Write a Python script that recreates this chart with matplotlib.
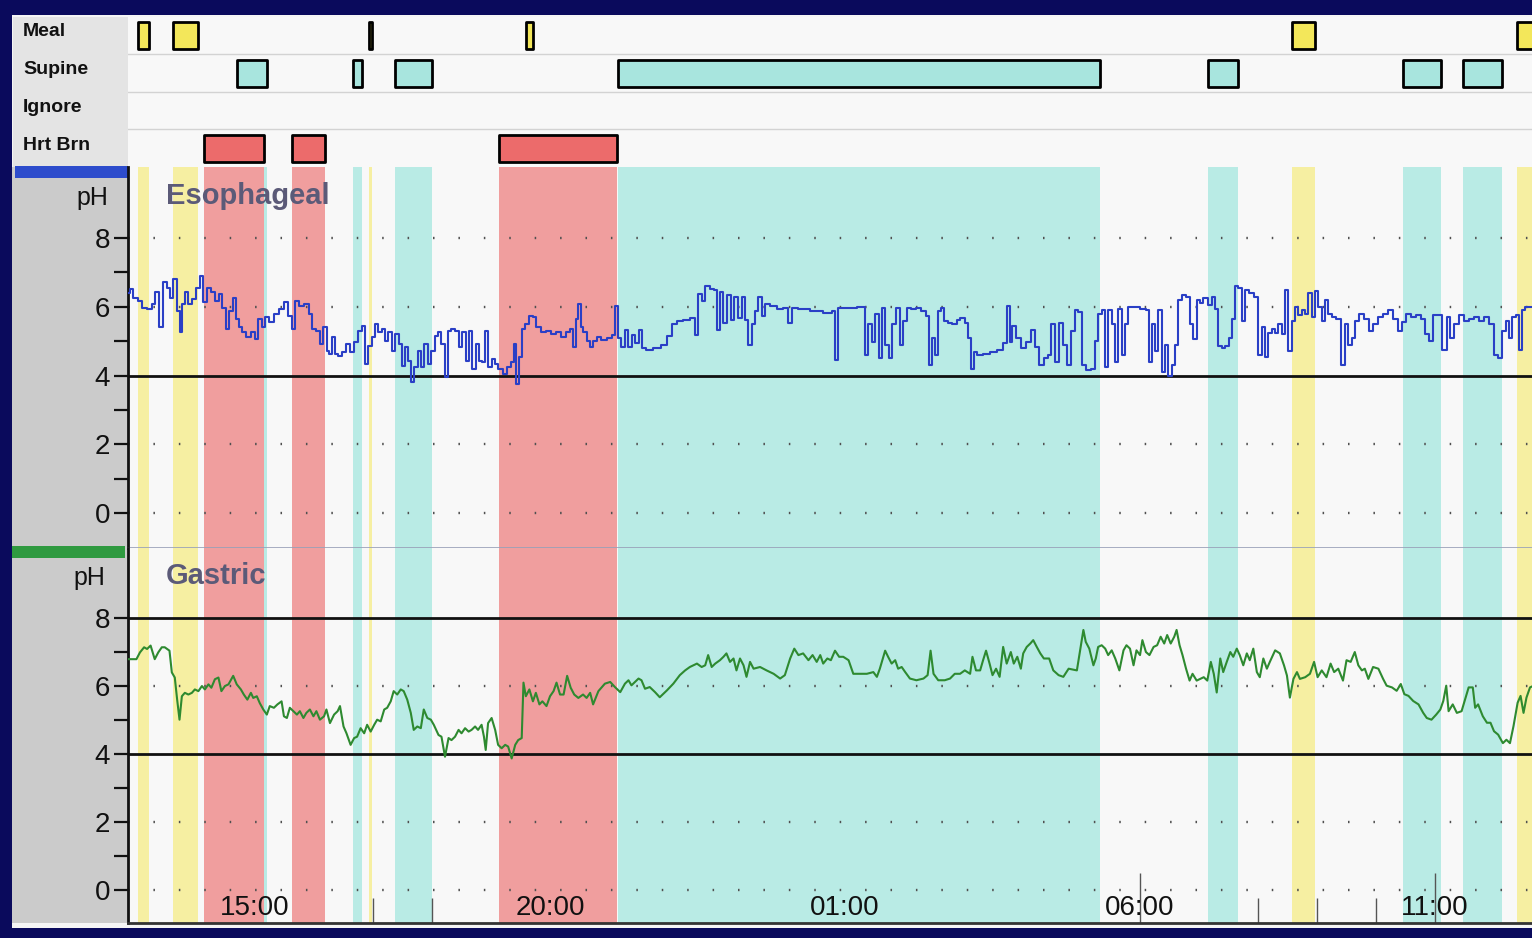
import numpy as np
import matplotlib
matplotlib.use("Agg")
import matplotlib.pyplot as plt
from matplotlib.patches import Rectangle

plt.rcParams['font.family'] = ['Liberation Sans', 'DejaVu Sans']
plt.rcParams['lines.scale_dashes'] = False

# ---------------- data ----------------
row_labels = ['Meal', 'Supine', 'Ignore', 'Hrt Brn']
# events as (start hour, end hour); hours counted from midnight of day 1
meal_events = [(13.02, 13.20), (13.61, 14.03), (16.93, 16.98), (19.59, 19.71),
               (32.58, 32.97), (36.39, 36.78)]
supine_events = [(14.69, 15.20), (16.66, 16.81), (17.37, 18.00), (21.15, 29.33),
                 (31.15, 31.66), (34.45, 35.10), (35.48, 36.14)]
ignore_events = []
heartburn_events = [(14.13, 15.16), (15.63, 16.18), (19.13, 21.13)]

time_label_hours = [15, 20, 25, 30, 35]
time_labels = ['15:00', '20:00', '01:00', '06:00', '11:00']
major_tick_hours = [30, 35]
minor_tick_hours = [17, 18, 32, 33, 34]

ph_major = [0, 2, 4, 6, 8]
ph_minor = [1, 3, 5, 7]

eso_hours = [
    12.85, 12.91, 12.97, 13.05, 13.13, 13.22, 13.28, 13.34, 13.40, 13.47,
    13.53, 13.59, 13.64, 13.70, 13.74, 13.78, 13.84, 13.90, 13.97, 14.04,
    14.10, 14.15, 14.21, 14.29, 14.36, 14.41, 14.47, 14.53, 14.58, 14.66,
    14.70, 14.74, 14.81, 14.89, 14.96, 15.03, 15.08, 15.14, 15.20, 15.28,
    15.37, 15.45, 15.54, 15.59, 15.65, 15.71, 15.79, 15.88, 15.94, 15.99,
    16.07, 16.13, 16.19, 16.24, 16.28, 16.33, 16.37, 16.44, 16.51, 16.58,
    16.64, 16.71, 16.78, 16.83, 16.89, 16.95, 17.00, 17.06, 17.12, 17.17,
    17.23, 17.29, 17.34, 17.41, 17.47, 17.51, 17.57, 17.62, 17.67, 17.73,
    17.78, 17.84, 17.90, 17.95, 18.02, 18.08, 18.13, 18.19, 18.24, 18.29,
    18.36, 18.43, 18.49, 18.54, 18.60, 18.65, 18.71, 18.77, 18.82, 18.87,
    18.93, 18.98, 19.04, 19.10, 19.15, 19.24, 19.31, 19.37, 19.41, 19.45,
    19.49, 19.55, 19.61, 19.67, 19.74, 19.80, 19.89, 19.97, 20.06, 20.14,
    20.23, 20.31, 20.37, 20.41, 20.46, 20.50, 20.54, 20.59, 20.65, 20.71,
    20.76, 20.82,
    20.90, 21.02, 21.07, 21.13, 21.18, 21.24, 21.30, 21.36, 21.41, 21.47,
    21.53, 21.58, 21.67, 21.81, 21.95, 22.03, 22.09, 22.20, 22.32, 22.43,
    22.49, 22.54, 22.60, 22.67, 22.74, 22.81, 22.85, 22.91, 22.97, 23.02,
    23.10, 23.15, 23.22, 23.28, 23.33, 23.38, 23.45, 23.50, 23.56, 23.62,
    23.67, 23.79, 23.90, 24.01, 24.07, 24.12, 24.29, 24.52, 24.75, 24.80,
    24.86, 24.90, 25.08, 25.31, 25.37, 25.42, 25.48, 25.55, 25.61, 25.65,
    25.72, 25.77, 25.83, 25.89, 25.96, 26.02, 26.07, 26.16, 26.24, 26.33,
    26.40, 26.45, 26.50, 26.55, 26.61, 26.66, 26.71, 26.78, 26.86, 26.92,
    26.99, 27.06, 27.12, 27.16, 27.20, 27.29, 27.40, 27.51, 27.63, 27.71,
    27.77, 27.81, 27.86, 27.94, 28.02, 28.11, 28.19, 28.26, 28.33, 28.41,
    28.46, 28.53, 28.59, 28.65, 28.73, 28.79,
    28.87, 28.93, 28.98, 29.04, 29.12, 29.21, 29.27, 29.32, 29.38, 29.44,
    29.49, 29.55, 29.60, 29.66, 29.72, 29.77, 29.83, 29.94, 30.06, 30.14,
    30.18, 30.23, 30.28, 30.34, 30.40, 30.45, 30.51, 30.56, 30.62, 30.68,
    30.73, 30.82, 30.88, 30.93, 30.99, 31.05, 31.10, 31.19, 31.24, 31.30,
    31.36, 31.41, 31.47, 31.53, 31.58, 31.64, 31.69, 31.75, 31.81, 31.89,
    31.98, 32.03, 32.09, 32.15, 32.20, 32.26, 32.32, 32.37, 32.43, 32.49,
    32.54, 32.60, 32.66, 32.71, 32.77, 32.83, 32.88, 32.94, 32.99, 33.05,
    33.11, 33.16, 33.22, 33.28, 33.36, 33.45, 33.50, 33.56, 33.62, 33.67,
    33.76, 33.84, 33.93, 33.98, 34.07, 34.15, 34.24, 34.32, 34.41, 34.46,
    34.55, 34.63, 34.72, 34.80, 34.86, 34.93, 35.00, 35.08, 35.17, 35.23,
    35.28, 35.37, 35.45, 35.54, 35.62, 35.71, 35.79, 35.88, 35.96, 36.05,
    36.10, 36.17, 36.23, 36.28, 36.34, 36.40, 36.44, 36.50, 36.55, 36.62,
    36.66,
]
eso_ph = [
    6.40, 6.51, 6.27, 6.17, 5.98, 5.93, 6.08, 6.42, 5.40, 6.71,
    6.56, 6.27, 6.80, 5.88, 5.26, 6.08, 6.42, 6.08, 6.22, 6.56,
    6.90, 6.13, 6.56, 6.42, 6.17, 6.37, 5.98, 5.35, 5.88, 6.27,
    5.64, 5.40, 5.26, 5.11, 5.26, 5.06, 5.64, 5.40, 5.69, 5.55,
    5.79, 5.93, 6.13, 5.74, 5.35, 6.17, 6.03, 6.08, 5.79, 5.35,
    5.30, 4.92, 5.40, 4.72, 4.63, 5.11, 4.63, 4.58, 4.68, 4.92,
    4.68, 4.97, 5.30, 5.45, 4.34, 4.87, 5.11, 5.50, 5.26, 5.35,
    5.01, 5.26, 4.72, 5.21, 4.92, 4.29, 4.82, 4.43, 3.81, 4.24,
    4.72, 4.24, 4.92, 4.34, 4.72, 5.16, 5.26, 4.92, 3.95, 5.30,
    5.35, 5.30, 4.82, 5.26, 4.43, 5.30, 4.19, 4.92, 4.43, 4.39,
    5.30, 4.24, 4.48, 4.34, 4.19, 4.05, 4.24, 4.39, 4.92, 3.76,
    4.53, 5.35, 5.50, 5.74, 5.69, 5.40, 5.26, 5.30, 5.21, 5.26,
    5.11, 5.26, 5.35, 4.82, 5.64, 6.08, 5.40, 5.26, 5.01, 4.82,
    5.01, 5.11,
    5.04, 5.09, 5.19, 6.03, 5.09, 4.84, 5.34, 4.84, 5.19, 4.94,
    5.34, 4.79, 4.74, 4.79, 4.89, 5.14, 5.49, 5.58, 5.63, 5.68,
    5.19, 6.38, 6.18, 6.62, 6.52, 6.48, 5.34, 6.43, 5.53, 6.33,
    5.63, 6.28, 5.68, 6.28, 5.63, 4.89, 5.49, 5.88, 6.28, 5.73,
    6.08, 6.03, 5.93, 5.98, 5.53, 5.98, 5.93, 5.88, 5.83, 5.88,
    4.45, 5.98, 5.98, 6.00, 4.59, 5.49, 4.99, 5.78, 4.50, 5.98,
    4.89, 4.50, 5.49, 5.98, 4.89, 5.58, 5.98, 5.93, 5.98, 5.88,
    5.73, 4.30, 5.09, 4.59, 5.88, 5.98, 5.58, 5.53, 5.49, 5.63,
    5.68, 5.53, 5.09, 4.20, 4.69, 4.59, 4.64, 4.69, 4.74, 4.94,
    6.03, 4.99, 5.44, 5.09, 4.79, 4.99, 5.34, 4.84, 4.30, 4.50,
    4.59, 5.49, 4.40, 5.53, 4.89, 4.30,
    5.30, 5.90, 5.85, 4.30, 4.15, 4.20, 5.00, 5.80, 5.90, 4.25,
    5.90, 5.50, 4.40, 5.95, 4.60, 5.50, 6.00, 6.00, 5.95, 5.90,
    4.40, 5.50, 4.70, 5.90, 4.10, 4.90, 4.00, 4.30, 4.90, 6.20,
    6.35, 6.30, 5.50, 5.05, 6.20, 6.10, 6.25, 6.05, 6.30, 5.95,
    4.85, 4.80, 4.85, 5.10, 5.65, 6.60, 6.55, 5.60, 6.50, 6.40,
    6.30, 4.60, 5.40, 4.55, 5.25, 5.35, 5.25, 5.50, 5.20, 6.50,
    4.70, 5.60, 6.00, 5.75, 5.90, 5.80, 6.40, 5.70, 6.45, 6.00,
    5.60, 6.20, 5.80, 5.70, 5.65, 4.30, 5.50, 4.90, 5.10, 5.60,
    5.80, 5.65, 5.30, 5.50, 5.70, 5.80, 5.90, 5.65, 5.30, 5.55,
    5.80, 5.70, 5.75, 5.65, 5.20, 5.00, 5.75, 5.75, 4.75, 5.70,
    5.10, 5.50, 5.75, 5.60, 5.65, 5.70, 5.60, 5.70, 5.50, 4.60,
    4.50, 5.30, 5.60, 5.10, 5.70, 5.75, 4.75, 5.90, 6.00, 6.00,
    6.00,
]

gastric_hours = [
    12.84, 12.99, 13.05, 13.12, 13.17, 13.23, 13.30, 13.36, 13.42, 13.47,
    13.55, 13.59, 13.64, 13.68, 13.72, 13.76, 13.81, 13.87, 13.93, 13.98,
    14.04, 14.10, 14.15, 14.21, 14.26, 14.32, 14.38, 14.43, 14.49, 14.55,
    14.63, 14.69, 14.76, 14.81, 14.87, 14.93, 14.97, 15.03, 15.08, 15.14,
    15.20, 15.25, 15.32, 15.38, 15.45, 15.49, 15.54, 15.59, 15.65, 15.71,
    15.76, 15.82, 15.87, 15.93, 15.99, 16.04, 16.10, 16.17, 16.21, 16.27,
    16.34, 16.40, 16.44, 16.50, 16.55, 16.62, 16.68, 16.73, 16.79, 16.85,
    16.90, 16.96, 17.02, 17.07, 17.13, 17.19, 17.24, 17.30, 17.35, 17.41,
    17.47, 17.52, 17.58, 17.64, 17.69, 17.75, 17.81, 17.86, 17.92, 17.98,
    18.03, 18.11, 18.16, 18.22, 18.28, 18.33, 18.39, 18.45, 18.50, 18.56,
    18.62, 18.67, 18.73, 18.78, 18.84, 18.88, 18.91, 18.95, 19.01, 19.07,
    19.12, 19.18, 19.24, 19.29, 19.35, 19.41, 19.46, 19.52, 19.55, 19.59,
    19.65, 19.71, 19.76, 19.82, 19.87, 19.94, 20.00, 20.06, 20.11, 20.17,
    20.23, 20.29, 20.35, 20.41, 20.48, 20.56, 20.62, 20.68, 20.73, 20.82,
    20.93, 21.02, 21.10, 21.19, 21.27, 21.33, 21.38, 21.44, 21.50, 21.55,
    21.61, 21.69, 21.78, 21.86, 21.98, 22.09, 22.20, 22.29, 22.37, 22.49,
    22.57, 22.63, 22.68, 22.74, 22.80, 22.88, 22.94, 22.99, 23.05, 23.11,
    23.16, 23.22, 23.28, 23.33, 23.39, 23.45, 23.56, 23.67, 23.79, 23.90,
    23.98, 24.07, 24.14, 24.21, 24.29, 24.38, 24.45, 24.52, 24.58, 24.63,
    24.70, 24.76, 24.83, 24.90, 24.97, 25.06, 25.14, 25.23, 25.37, 25.48,
    25.54, 25.59, 25.68, 25.73, 25.79, 25.85, 25.90, 25.96, 26.02, 26.10,
    26.21, 26.33, 26.40, 26.45, 26.50, 26.58, 26.69, 26.78, 26.86, 26.95,
    27.03, 27.12, 27.16, 27.22, 27.29, 27.34, 27.39, 27.45, 27.50, 27.56,
    27.62, 27.68, 27.74, 27.81, 27.86, 27.92, 27.98, 28.02, 28.08, 28.14,
    28.19, 28.25, 28.31, 28.37, 28.46, 28.53, 28.62, 28.70, 28.79,
    28.93, 28.98, 29.04, 29.08, 29.14, 29.21, 29.25, 29.29, 29.35, 29.41,
    29.46, 29.52, 29.58, 29.65, 29.72, 29.77, 29.83, 29.89, 29.94, 30.00,
    30.04, 30.10, 30.16, 30.23, 30.29, 30.35, 30.41, 30.46, 30.52, 30.58,
    30.62, 30.67, 30.72, 30.78, 30.84, 30.89, 30.96, 31.02, 31.08, 31.14,
    31.20, 31.25, 31.30, 31.36, 31.41, 31.47, 31.53, 31.58, 31.64, 31.69,
    31.75, 31.81, 31.86, 31.92, 31.98, 32.03, 32.09, 32.15, 32.20, 32.29,
    32.37, 32.44, 32.49, 32.54, 32.60, 32.66, 32.71, 32.80, 32.88, 32.95,
    33.01, 33.08, 33.16, 33.23, 33.29, 33.36, 33.44, 33.50, 33.57, 33.64,
    33.70, 33.76, 33.81, 33.87, 33.95, 34.04, 34.12, 34.18, 34.27, 34.35,
    34.42, 34.48, 34.55, 34.63, 34.72, 34.80, 34.86, 34.94, 35.02, 35.09,
    35.14, 35.19, 35.23, 35.30, 35.37, 35.45, 35.51, 35.57, 35.64, 35.68,
    35.73, 35.81, 35.88, 35.94, 36.00, 36.07, 36.15, 36.21, 36.27, 36.33,
    36.40, 36.45, 36.50, 36.55, 36.61, 36.66,
]
gastric_ph = [
    6.79, 6.79, 6.99, 7.14, 7.09, 7.19, 6.79, 6.99, 7.14, 7.14,
    7.04, 6.40, 6.25, 5.60, 5.01, 5.70, 5.80, 5.75, 5.80, 5.90,
    5.85, 6.00, 5.90, 6.05, 5.95, 6.20, 6.25, 5.85, 6.00, 6.05,
    6.30, 6.05, 5.90, 5.75, 5.60, 5.80, 5.65, 5.70, 5.50, 5.31,
    5.16, 5.41, 5.36, 5.46, 5.55, 5.11, 5.06, 5.36, 5.26, 5.16,
    5.26, 5.06, 5.21, 5.31, 5.11, 5.26, 5.01, 5.11, 5.31, 4.91,
    5.16, 5.26, 5.41, 4.81, 4.61, 4.27, 4.47, 4.51, 4.76, 4.61,
    4.86, 4.66, 4.86, 5.01, 4.96, 5.31, 5.36, 5.55, 5.85, 5.75,
    5.90, 5.85, 5.60, 5.21, 4.71, 4.81, 4.76, 5.31, 5.06, 5.01,
    4.86, 4.56, 4.51, 3.92, 4.47, 4.41, 4.51, 4.71, 4.61, 4.76,
    4.66, 4.71, 4.81, 4.71, 4.86, 4.51, 4.12, 4.91, 5.06, 4.71,
    4.27, 4.17, 4.27, 4.22, 3.87, 4.27, 4.41, 4.47, 6.10, 5.70,
    5.90, 5.55, 5.80, 5.46, 5.55, 5.41, 5.70, 5.85, 6.10, 5.75,
    5.75, 6.30, 5.95, 5.75, 5.65, 5.75, 5.65, 5.80, 5.46, 5.85,
    6.07, 6.12, 5.97, 5.82, 6.07, 6.17, 6.02, 6.12, 6.22, 6.17,
    5.92, 5.97, 5.82, 5.67, 5.87, 6.07, 6.32, 6.46, 6.56, 6.66,
    6.56, 6.61, 6.91, 6.56, 6.66, 6.76, 6.86, 6.96, 6.71, 6.81,
    6.46, 6.81, 6.61, 6.27, 6.71, 6.51, 6.56, 6.46, 6.36, 6.22,
    6.32, 6.81, 7.10, 6.91, 6.96, 6.76, 6.91, 6.71, 6.91, 6.66,
    6.81, 6.76, 7.04, 6.86, 6.86, 6.76, 6.36, 6.36, 6.36, 6.41,
    6.27, 6.51, 7.04, 6.86, 6.66, 6.76, 6.51, 6.56, 6.41, 6.22,
    6.17, 6.22, 6.32, 7.04, 6.36, 6.17, 6.17, 6.22, 6.36, 6.36,
    6.46, 6.36, 6.86, 6.46, 6.46, 6.76, 7.04, 6.66, 6.32, 6.51,
    6.27, 7.15, 6.66, 7.00, 6.66, 6.86, 6.51, 6.96, 7.15, 7.25,
    7.35, 7.15, 6.96, 6.81, 6.81, 6.46, 6.32, 6.27, 6.51,
    6.46, 7.00, 7.65, 7.30, 7.10, 6.61, 6.81, 7.15, 7.20, 7.10,
    6.91, 7.05, 6.81, 6.46, 7.05, 7.20, 7.10, 6.61, 7.05, 6.91,
    7.35, 7.00, 6.91, 7.15, 7.20, 7.45, 7.25, 7.50, 7.25, 7.45,
    7.65, 7.20, 6.91, 6.51, 6.16, 6.36, 6.16, 6.21, 6.26, 6.16,
    6.71, 6.36, 5.81, 6.81, 6.41, 6.71, 7.00, 6.86, 7.10, 6.91,
    6.61, 6.96, 6.76, 7.10, 6.41, 6.26, 6.81, 6.51, 6.71, 7.05,
    6.96, 6.61, 6.31, 5.66, 6.21, 6.41, 6.21, 6.26, 6.36, 6.71,
    6.26, 6.46, 6.26, 6.66, 6.41, 6.51, 6.16, 6.76, 6.71, 7.00,
    6.61, 6.46, 6.51, 6.21, 6.56, 6.51, 6.21, 6.01, 5.96, 5.86,
    6.06, 5.76, 5.71, 5.56, 5.46, 5.21, 5.06, 5.01, 5.16, 5.31,
    5.56, 6.01, 5.26, 5.46, 5.21, 5.26, 5.61, 5.96, 5.96, 5.36,
    5.46, 5.11, 4.92, 4.92, 4.67, 4.57, 4.32, 4.42, 4.32, 4.82,
    5.51, 5.71, 5.21, 5.66, 5.96, 6.00,
]

assert len(eso_hours) == len(eso_ph), (len(eso_hours), len(eso_ph))
assert len(gastric_hours) == len(gastric_ph), (len(gastric_hours), len(gastric_ph))

# ---------------- layout ----------------
W, H = 1532, 938
PX_PER_HOUR = 59.0
AX_LEFT = 128
T0 = 12.847
T1 = T0 + (W - AX_LEFT) / PX_PER_HOUR

NAVY = '#0a0a5c'
MEAL_BAND, SUPINE_BAND, HB_BAND = '#f6efa2', '#b9ebe5', '#f09e9e'
MEAL_BOX, SUPINE_BOX, HB_BOX = '#f3e75a', '#a8e5de', '#ec6b6b'

fig = plt.figure(figsize=(W / 100, H / 100), dpi=100)
fig.patch.set_facecolor(NAVY)


def frect(x0, y0, x1, y1):
    return [x0 / W, 1 - y1 / H, (x1 - x0) / W, (y1 - y0) / H]


bg = fig.add_axes([0, 0, 1, 1], zorder=0)
bg.set_xlim(0, W)
bg.set_ylim(H, 0)
bg.axis('off')
bg.add_patch(Rectangle((12, 15), W - 12, 913, color='#f5f5f5', lw=0))
bg.add_patch(Rectangle((13, 17), AX_LEFT - 13, 150, color='#e4e4e4', lw=0))
bg.add_patch(Rectangle((12, 167), AX_LEFT - 12, 756, color='#cbcbcb', lw=0))
bg.add_patch(Rectangle((15, 166), AX_LEFT - 15, 12, color='#2d4ccc', lw=0))
bg.add_patch(Rectangle((12, 546), 113, 12, color='#2f9a40', lw=0))
for lab, yy in zip(row_labels, [32, 70, 108, 145]):
    bg.text(23, yy, lab, ha='left', va='center', fontsize=14, fontweight='bold',
            color='#111111')
bg.text(92, 198, 'pH', ha='center', va='center', fontsize=18, color='#111111')
bg.text(89, 578, 'pH', ha='center', va='center', fontsize=18, color='#111111')

# ---------------- event rows ----------------
ax_ev = fig.add_axes(frect(AX_LEFT, 17, W, 167), zorder=1)
ax_ev.set_xlim(T0, T1)
ax_ev.set_ylim(4, 0)
ax_ev.set_facecolor('#f8f8f8')
for s in ax_ev.spines.values():
    s.set_visible(False)
ax_ev.set_xticks([])
ax_ev.set_yticks([])
for yy in [1, 2, 3]:
    ax_ev.axhline(yy, color='#d3d3d3', lw=1)
event_sets = [meal_events, supine_events, ignore_events, heartburn_events]
box_colors = [MEAL_BOX, SUPINE_BOX, '#ffffff', HB_BOX]
for i, (evs, c) in enumerate(zip(event_sets, box_colors)):
    if evs:
        ax_ev.broken_barh([(a, b - a) for a, b in evs], (i + 0.14, 0.72),
                          facecolors=c, edgecolors='black', linewidth=2.0)


# ---------------- pH panels ----------------
def panel(rect, ylim, hours, ph, color, title, dotted, solid, bottom_axis, style):
    ax = fig.add_axes(frect(*rect), zorder=2)
    ax.set_xlim(T0, T1)
    ax.set_ylim(*ylim)
    ax.set_facecolor('#f8f8f8')
    for evs, c in [(meal_events, MEAL_BAND), (supine_events, SUPINE_BAND),
                   (heartburn_events, HB_BAND)]:
        for a, b in evs:
            ax.axvspan(a, b, color=c, lw=0, zorder=1)
    for yy in dotted:
        ax.axhline(yy, color='#505050', lw=1.7, ls=(0, (1.1, 17.2)), zorder=2)
    for yy in solid:
        ax.axhline(yy, color='#111111', lw=2.0, zorder=2)
    ax.plot(hours, ph, color=color, lw=1.5, zorder=3, drawstyle=style)
    ax.text(0.027, 0.924, title, transform=ax.transAxes, ha='left', va='center',
            fontsize=21, fontweight='bold', color='#5b5a78', zorder=4)
    ax.set_yticks(ph_major)
    ax.set_yticklabels([str(v) for v in ph_major])
    ax.set_yticks(ph_minor, minor=True)
    ax.tick_params(axis='y', which='both', direction='out', length=10, width=1.6,
                   labelsize=20, pad=3, colors='#111111')
    ax.spines['left'].set_color('#111111')
    ax.spines['left'].set_linewidth(2)
    ax.spines['top'].set_visible(False)
    ax.spines['right'].set_visible(False)
    if bottom_axis:
        ax.spines['bottom'].set_color('#333333')
        ax.spines['bottom'].set_linewidth(2)
        ax.set_xticks(major_tick_hours)
        ax.set_xticklabels([])
        ax.set_xticks(minor_tick_hours, minor=True)
        ax.tick_params(axis='x', which='major', direction='in', length=36,
                       width=1.0, colors='#555555')
        ax.tick_params(axis='x', which='minor', direction='in', length=18,
                       width=1.0, colors='#555555')
        for hr, lab in zip(time_label_hours, time_labels):
            ax.text(hr, 0.04, lab, transform=ax.get_xaxis_transform(),
                    ha='center', va='center', fontsize=20, color='#111111', zorder=4)
    else:
        ax.spines['bottom'].set_color('#98a0b8')
        ax.spines['bottom'].set_linewidth(1.2)
        ax.set_xticks([])
    return ax


eso_ax = panel((AX_LEFT, 167, W, 548), (-1.02, 10.07), eso_hours, eso_ph,
               '#2a3fc6', 'Esophageal', [8, 6, 2, 0], [4], False, 'steps-mid')
gas_ax = panel((AX_LEFT, 548, W, 923), (-0.97, 10.06), gastric_hours, gastric_ph,
               '#2e8a30', 'Gastric', [6, 2, 0], [8, 4], True, 'default')

fig.savefig('out.png', dpi=100, facecolor=fig.get_facecolor())
